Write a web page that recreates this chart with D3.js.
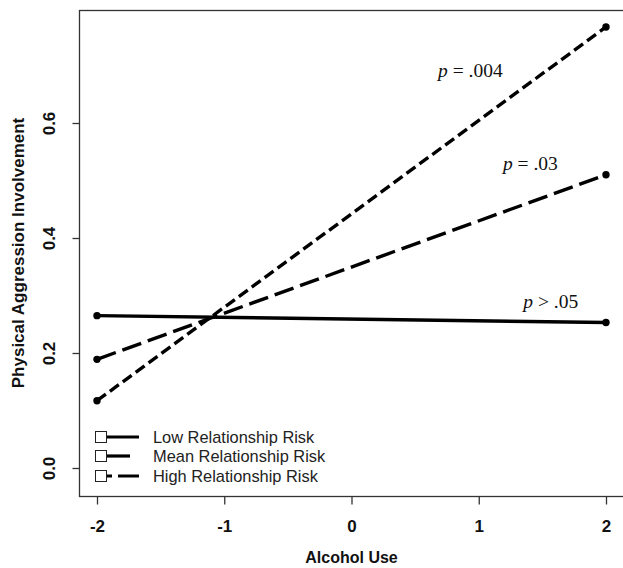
<!DOCTYPE html>
<html>
<head>
<meta charset="utf-8">
<script src="https://cdn.jsdelivr.net/npm/d3@7"></script>
<style>
  html, body { margin: 0; padding: 0; background: #fff; }
  svg { display: block; }
</style>
</head>
<body>
<svg id="chart" width="623" height="568"></svg>
<script>
// ---- data ----
const alcoholUse = [-2, 2];
const seriesNames = ["Low Relationship Risk", "Mean Relationship Risk", "High Relationship Risk"];
const lowRisk  = [0.265, 0.253];
const meanRisk = [0.189, 0.510];
const highRisk = [0.117, 0.767];
const xTicks = [-2, -1, 0, 1, 2];
const xTickLabels = ["-2", "-1", "0", "1", "2"];
const yTicks = [0.0, 0.2, 0.4, 0.6];
const yTickLabels = ["0.0", "0.2", "0.4", "0.6"];
const pLabels = [["p", " = .004"], ["p", " = .03"], ["p", " > .05"]];
const pLabelAnchors = [[0.68, 0.68], [1.19, 0.518], [1.35, 0.278]]; // in data units

// ---- layout ----
const svg = d3.select("#chart");
const x = d3.scaleLinear().domain([-2, 2]).range([97, 606]);
const y = d3.scaleLinear().domain([0, 0.6]).range([468, 123]);
const box = {left: 79, top: 10, right: 626, bottom: 496};
const sans = "'Liberation Sans', Arial, sans-serif";
const serif = "'Liberation Serif', 'Times New Roman', serif";
const dashes = ["none", "20,7", "11,5"];
const seriesData = [lowRisk, meanRisk, highRisk];

// plot frame
svg.append("rect")
  .attr("x", box.left + 0.5).attr("y", box.top + 0.5)
  .attr("width", box.right - box.left).attr("height", box.bottom - box.top)
  .attr("fill", "none").attr("stroke", "#333").attr("stroke-width", 1.3);

// x axis
const xAxis = d3.axisBottom(x).tickValues(xTicks).tickSize(8).tickPadding(15)
  .tickFormat((d, i) => xTickLabels[i]);
const gx = svg.append("g").attr("transform", `translate(0,${box.bottom + 0.5})`).call(xAxis);
gx.select(".domain").remove();
gx.selectAll("line").attr("stroke", "#333").attr("stroke-width", 1.3);
gx.selectAll("text").attr("font-family", sans).attr("font-size", 17)
  .attr("font-weight", "bold").attr("fill", "#111");

// y axis
const yAxis = d3.axisLeft(y).tickValues(yTicks).tickSize(7).tickFormat((d, i) => yTickLabels[i]);
const gy = svg.append("g").attr("transform", `translate(${box.left + 0.5},0)`).call(yAxis);
gy.select(".domain").remove();
gy.selectAll("line").attr("stroke", "#333").attr("stroke-width", 1.3);
gy.selectAll("text")
  .attr("font-family", sans).attr("font-size", 17).attr("font-weight", "bold").attr("fill", "#111")
  .attr("x", null).attr("dy", null)
  .attr("text-anchor", "middle")
  .attr("transform", "translate(-31,0) rotate(-90)")
  .attr("y", 6);

// axis titles
svg.append("text")
  .attr("x", (x(-2) + x(2)) / 2).attr("y", 563)
  .attr("text-anchor", "middle")
  .attr("font-family", sans).attr("font-size", 16).attr("font-weight", "bold").attr("fill", "#111")
  .text("Alcohol Use");
svg.append("text")
  .attr("transform", `translate(24,${(box.top + box.bottom) / 2}) rotate(-90)`)
  .attr("text-anchor", "middle")
  .attr("font-family", sans).attr("font-size", 17).attr("font-weight", "bold").attr("fill", "#111")
  .text("Physical Aggression Involvement");

// lines
const line = d3.line().x((d, i) => x(alcoholUse[i])).y(d => y(d));
seriesData.forEach((vals, k) => {
  svg.append("path")
    .datum(vals)
    .attr("d", line)
    .attr("fill", "none")
    .attr("stroke", "#000")
    .attr("stroke-width", 3.4)
    .attr("stroke-dasharray", dashes[k]);
  svg.selectAll(null)
    .data(vals).enter()
    .append("circle")
    .attr("cx", (d, i) => x(alcoholUse[i]))
    .attr("cy", d => y(d))
    .attr("r", 3.7)
    .attr("fill", "#000");
});

// p annotations
pLabels.forEach((parts, k) => {
  const t = svg.append("text")
    .attr("x", x(pLabelAnchors[k][0])).attr("y", y(pLabelAnchors[k][1]))
    .attr("font-family", serif).attr("font-size", 19.5).attr("fill", "#111");
  t.append("tspan").attr("font-style", "italic").text(parts[0]);
  t.append("tspan").text(parts[1]);
});

// legend
const legRowY = [437, 456, 476];
const legendDash = ["none", "30,100", "12,6,30"];
seriesNames.forEach((name, k) => {
  const ly = legRowY[k];
  svg.append("line")
    .attr("x1", 100).attr("x2", 139).attr("y1", ly).attr("y2", ly)
    .attr("stroke", "#000").attr("stroke-width", 3.2)
    .attr("stroke-dasharray", legendDash[k]);
  svg.append("rect")
    .attr("x", 95.5).attr("y", ly - 5.5).attr("width", 11).attr("height", 11)
    .attr("fill", "#fff").attr("stroke", "#222").attr("stroke-width", 1);
  svg.append("text")
    .attr("x", 153).attr("y", ly + 5.5)
    .attr("font-family", sans).attr("font-size", 16.4).attr("fill", "#222")
    .text(name);
});
</script>
</body>
</html>
